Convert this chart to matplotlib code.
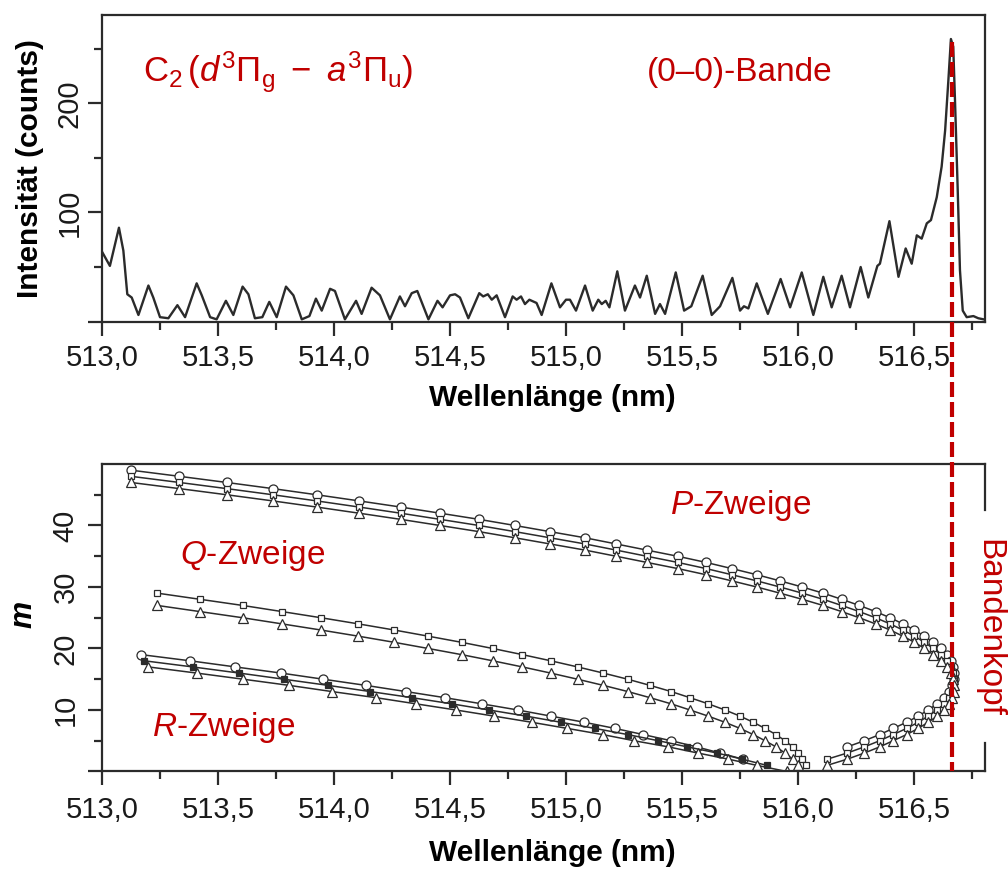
"""
C2 Swan band (0-0): emission spectrum and Fortrat diagram of the P/Q/R branches
"""

import numpy as np
import matplotlib
matplotlib.use("Agg")
import matplotlib.pyplot as plt
from matplotlib.ticker import FixedLocator, FuncFormatter
from matplotlib.lines import Line2D

plt.rcParams['font.family'] = ['Liberation Sans', 'DejaVu Sans']
plt.rcParams['mathtext.fontset'] = 'custom'
plt.rcParams['mathtext.rm'] = 'Liberation Sans'
plt.rcParams['mathtext.it'] = 'Liberation Sans:italic'
plt.rcParams['mathtext.bf'] = 'Liberation Sans:bold'

RED = '#c00000'
INK = '#2b2b2b'

# --- spectrum (nm, counts)
spec_wl = [513.000, 513.034, 513.055, 513.073, 513.092, 513.109, 513.128, 513.157, 513.200, 513.221,
           513.250, 513.286, 513.325, 513.358, 513.408, 513.430, 513.466, 513.494, 513.534, 513.566,
           513.606, 513.631, 513.659, 513.691, 513.721, 513.753, 513.793, 513.825, 513.861, 513.894,
           513.922, 513.947, 513.983, 514.004, 514.047, 514.095, 514.119, 514.162, 514.198, 514.241,
           514.284, 514.306, 514.335, 514.359, 514.407, 514.446, 514.468, 514.500, 514.522, 514.543,
           514.579, 514.626, 514.643, 514.663, 514.680, 514.701, 514.737, 514.770, 514.787, 514.806,
           514.823, 514.842, 514.873, 514.895, 514.937, 514.974, 515.000, 515.017, 515.043, 515.082,
           515.115, 515.139, 515.154, 515.171, 515.187, 515.221, 515.254, 515.297, 515.319, 515.348,
           515.384, 515.405, 515.427, 515.473, 515.509, 515.540, 515.589, 515.628, 515.664, 515.717,
           515.750, 515.767, 515.786, 515.822, 515.870, 515.925, 515.966, 516.016, 516.066, 516.109,
           516.145, 516.188, 516.224, 516.270, 516.303, 516.342, 516.353, 516.394, 516.433, 516.464,
           516.490, 516.512, 516.533, 516.555, 516.573, 516.598, 516.619, 516.634, 516.648, 516.659,
           516.669, 516.677, 516.688, 516.698, 516.710, 516.727, 516.756, 516.777, 516.800]
spec_counts = [64, 51, 70, 86, 65, 25, 22, 6, 33, 22,
               4, 3, 15, 4, 35, 24, 4, 2, 19, 6,
               32, 25, 3, 4, 18, 4, 32, 24, 2, 5,
               21, 10, 30, 28, 2, 19, 7, 31, 24, 2,
               23, 14, 26, 28, 2, 19, 13, 24, 25, 22,
               3, 26, 23, 25, 20, 24, 4, 23, 20, 23,
               16, 20, 17, 6, 35, 13, 20, 20, 10, 33,
               10, 20, 16, 19, 13, 46, 10, 33, 22, 42,
               7, 16, 7, 45, 10, 14, 42, 6, 14, 40,
               10, 14, 12, 35, 7, 39, 13, 45, 6, 41,
               13, 42, 13, 50, 22, 51, 53, 92, 41, 67,
               53, 79, 76, 90, 93, 114, 142, 175, 221, 259,
               252, 200, 123, 47, 10, 4, 5, 3, 2]

# --- P branches (circles / squares / triangles)
p_wl = [513.124, 513.333, 513.537, 513.736, 513.925, 514.108, 514.287, 514.457, 514.625, 514.780,
        514.931, 515.082, 515.216, 515.348, 515.481, 515.603, 515.714, 515.822, 515.922, 516.018,
        516.108, 516.188, 516.264, 516.334, 516.397, 516.452, 516.502, 516.545, 516.583, 516.616,
        516.642, 516.660, 516.670, 516.674, 516.672, 516.665, 516.652, 516.630, 516.600, 516.561,
        516.518, 516.468, 516.410, 516.352, 516.286, 516.212]
p_wl_end = [516.126]
p_m_circ = [49, 48, 47, 46, 45, 44, 43, 42, 41, 40, 39, 38, 37, 36, 35, 34, 33, 32, 31, 30,
            29, 28, 27, 26, 25, 24, 23, 22, 21, 20, 19, 18, 17, 16, 15, 14, 13, 12, 11, 10,
            9, 8, 7, 6, 5, 4]
p_m_sq = [48, 47, 46, 45, 44, 43, 42, 41, 40, 39, 38, 37, 36, 35, 34, 33, 32, 31, 30, 29,
          28, 27, 26, 25, 24, 23, 22, 21, 20, 19, 18, 17, 16, 15, 14, 13, 12, 11, 10, 9,
          8, 7, 6, 5, 4, 3, 2]
p_m_tri = [47, 46, 45, 44, 43, 42, 41, 40, 39, 38, 37, 36, 35, 34, 33, 32, 31, 30, 29, 28,
           27, 26, 25, 24, 23, 22, 21, 20, 19, 18, 17, 16, 15, 14, 13, 12, 11, 10, 9, 8,
           7, 6, 5, 4, 3, 2, 1]

# --- Q branches (squares / triangles)
q_wl = [513.238, 513.422, 513.606, 513.776, 513.944, 514.105, 514.260, 514.406, 514.550, 514.684,
        514.812, 514.934, 515.050, 515.161, 515.266, 515.362, 515.453, 515.534, 515.613, 515.685,
        515.750, 515.807, 515.858, 515.905, 515.944, 515.977, 516.001, 516.016, 516.034]
q_m_sq = [29, 28, 27, 26, 25, 24, 23, 22, 21, 20, 19, 18, 17, 16, 15, 14, 13, 12, 11, 10,
          9, 8, 7, 6, 5, 4, 3, 2, 1]
q_m_tri = [27, 26, 25, 24, 23, 22, 21, 20, 19, 18, 17, 16, 15, 14, 13, 12, 11, 10, 9, 8,
           7, 6, 5, 4, 3, 2, 1]

# --- R branches (circles / filled squares / triangles)
r_wl_circ = [513.169, 513.379, 513.575, 513.772, 513.954, 514.137, 514.309, 514.478, 514.637,
             514.792, 514.935, 515.079, 515.211, 515.333, 515.453, 515.563, 515.664, 515.762]
r_m_circ = [19, 18, 17, 16, 15, 14, 13, 12, 11, 10, 9, 8, 7, 6, 5, 4, 3, 2]
r_wl_sq = [513.182, 513.391, 513.592, 513.784, 513.975, 514.155, 514.337, 514.507, 514.668,
           514.828, 514.978, 515.125, 515.266, 515.398, 515.523, 515.651, 515.759, 515.865]
r_m_sq = [18, 17, 16, 15, 14, 13, 12, 11, 10, 9, 8, 7, 6, 5, 4, 3, 2, 1]
r_wl_tri = [513.200, 513.408, 513.609, 513.807, 513.990, 514.181, 514.353, 514.525, 514.690,
            514.852, 515.006, 515.158, 515.293, 515.441, 515.568, 515.700, 515.822, 515.951]
r_m_tri = [17, 16, 15, 14, 13, 12, 11, 10, 9, 8, 7, 6, 5, 4, 3, 2, 1, 0]

x_head = 516.664


def style_axes(ax, ymax, ymajor, yminor, xpad, ypad):
    ax.set_xlim(513.0, 516.806)
    ax.set_ylim(0, ymax)
    ax.xaxis.set_major_locator(FixedLocator(np.arange(513.0, 516.51, 0.5)))
    ax.xaxis.set_minor_locator(FixedLocator(np.arange(513.25, 516.8, 0.5)))
    ax.yaxis.set_major_locator(FixedLocator(ymajor))
    ax.yaxis.set_minor_locator(FixedLocator(yminor))
    ax.xaxis.set_major_formatter(FuncFormatter(lambda v, p: ('%.1f' % v).replace('.', ',')))
    ax.yaxis.set_major_formatter(FuncFormatter(lambda v, p: '' if v == 0 else '%d' % v))
    ax.tick_params(which='major', direction='out', length=10, width=1.6, color=INK,
                   labelsize=21, labelcolor='#1a1a1a')
    ax.tick_params(which='minor', direction='out', length=6, width=1.6, color=INK)
    ax.tick_params(axis='x', pad=xpad)
    ax.tick_params(axis='y', pad=ypad, labelrotation=90)
    plt.setp(ax.get_yticklabels(), va='center')
    for s in ax.spines.values():
        s.set_linewidth(1.6)
        s.set_color(INK)


def branch(ax, wl, m, marker, ms, filled=False):
    ax.plot(wl, m, '-', color=INK, lw=1.1, marker=marker, ms=ms,
            mfc=INK if filled else 'white', mec=INK, mew=0.9)


fig = plt.figure(figsize=(10.08, 8.73), dpi=100)
ax1 = fig.add_axes([0.1012, 0.6317, 0.876, 0.3511])
ax2 = fig.add_axes([0.1012, 0.1163, 0.876, 0.3522])

# upper panel: spectrum
ax1.plot(spec_wl, spec_counts, color=INK, lw=1.7, solid_joinstyle='round')
style_axes(ax1, 281, [0, 100, 200], [50, 150, 250], 6.5, 3)
ax1.set_xlabel('Wellenlänge (nm)', fontsize=21.5, fontweight='bold')
ax1.set_ylabel('Intensität (counts)', fontsize=21.5, fontweight='bold')
ax1.xaxis.set_label_coords(0.5096, -0.204)
ax1.yaxis.set_label_coords(-0.0657, 0.5)
ax1.text(513.177, 228, r'$\mathrm{C}_2\,(d^3\Pi_\mathrm{g}\ -\ a^3\Pi_\mathrm{u})$',
         color=RED, fontsize=25, ha='left', va='center')
ax1.text(515.349, 228, '(0\u20130)-Bande', color=RED, fontsize=24, ha='left', va='center')

# lower panel: Fortrat diagram
branch(ax2, p_wl, p_m_circ, 'o', 6.5)
branch(ax2, p_wl + p_wl_end, p_m_sq, 's', 5)
branch(ax2, p_wl + p_wl_end, p_m_tri, '^', 6.5)
branch(ax2, q_wl, q_m_sq, 's', 5)
branch(ax2, q_wl[:len(q_m_tri)], q_m_tri, '^', 6.5)
branch(ax2, r_wl_circ, r_m_circ, 'o', 6.5)
branch(ax2, r_wl_sq, r_m_sq, 's', 5, filled=True)
branch(ax2, r_wl_tri, r_m_tri, '^', 6.5)

style_axes(ax2, 50, [0, 10, 20, 30, 40], [5, 15, 25, 35, 45], 8, 6)
ax2.spines['right'].set_visible(False)
ax2.plot([1, 1], [42.5, 50], transform=ax2.get_yaxis_transform(), color=INK, lw=1.6,
         clip_on=False, solid_capstyle='projecting')
ax2.plot([1, 1], [0, 4.6], transform=ax2.get_yaxis_transform(), color=INK, lw=1.6,
         clip_on=False, solid_capstyle='projecting')
ax2.set_xlabel('Wellenlänge (nm)', fontsize=21.5, fontweight='bold')
ax2.set_ylabel('m', fontsize=22, fontweight='bold', fontstyle='italic')
ax2.xaxis.set_label_coords(0.5096, -0.2195)
ax2.yaxis.set_label_coords(-0.0725, 0.51)
ax2.text(515.448, 43.3, r'$\mathit{P}$-Zweige', color=RED, fontsize=24, ha='left', va='center')
ax2.text(513.336, 35.2, r'$\mathit{Q}$-Zweige', color=RED, fontsize=24, ha='left', va='center')
ax2.text(513.216, 7.1, r'$\mathit{R}$-Zweige', color=RED, fontsize=24, ha='left', va='center')
fig.text(0.981, 0.2806, 'Bandenkopf', rotation=-90, color=RED, fontsize=24,
         ha='center', va='center')

# band head marker running through both panels
p_top = ax1.transData.transform((x_head, 256))
p_bot = ax2.transData.transform((x_head, 0))
(fx0, fy0), (fx1, fy1) = fig.transFigure.inverted().transform([p_top, p_bot])
fig.add_artist(Line2D([fx0, fx1], [fy0, fy1], color=RED, lw=3, dashes=(3.6, 1.2), zorder=10))

plt.savefig('out.png', dpi=100)
